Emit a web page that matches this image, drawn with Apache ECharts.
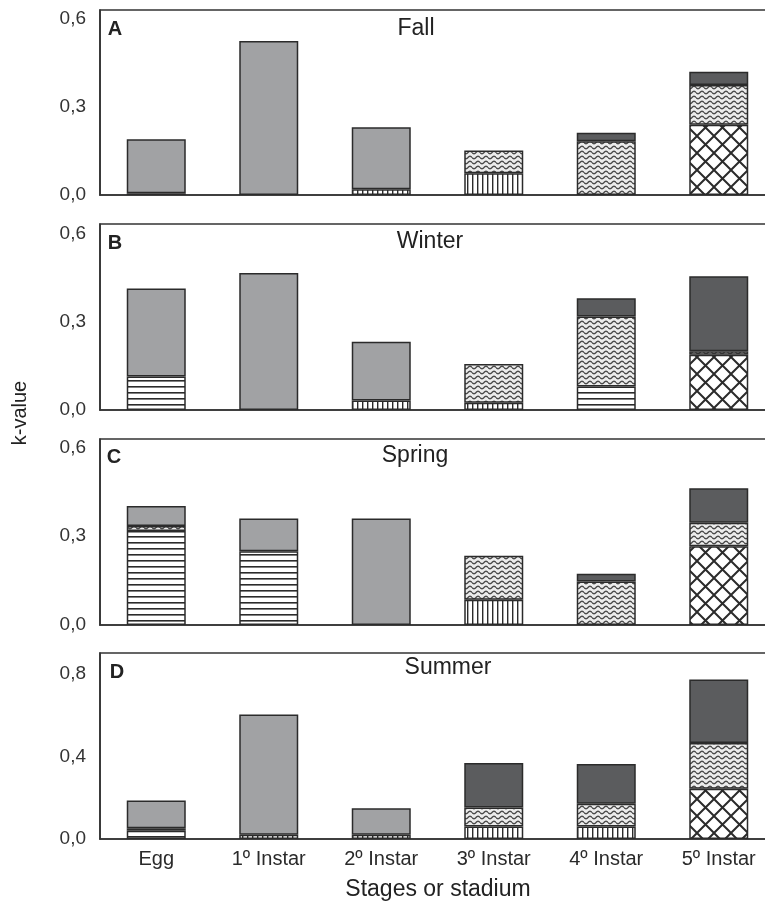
<!DOCTYPE html>
<html>
<head>
<meta charset="utf-8">
<script src="https://cdn.jsdelivr.net/npm/echarts@6/dist/echarts.min.js"></script>
<style>
  html, body { margin: 0; padding: 0; background: #fff; overflow: hidden; }
  /* plot frame runs a little past the right edge of the picture, as in the original */
  #main { width: 785px; height: 912px; }
</style>
</head>
<body>
<div id="main"></div>
<script>
var stages = ['Egg', '1º Instar', '2º Instar', '3º Instar', '4º Instar', '5º Instar'];

// A - Fall
var fallHoriz  = [0.006, 0, 0, 0, 0, 0];
var fallDarkLo = [0, 0, 0, 0, 0, 0];
var fallVert   = [0, 0, 0.02, 0.074, 0, 0];
var fallCross  = [0, 0, 0, 0, 0, 0.24];
var fallWavy   = [0, 0, 0, 0.078, 0.183, 0.135];
var fallLight  = [0.184, 0.525, 0.211, 0, 0, 0];
var fallDark   = [0, 0, 0, 0, 0.029, 0.045];

// B - Winter
var winterHoriz  = [0.114, 0, 0, 0, 0.08, 0];
var winterDarkLo = [0, 0, 0, 0, 0, 0];
var winterVert   = [0, 0, 0.032, 0.025, 0, 0];
var winterCross  = [0, 0, 0, 0, 0, 0.188];
var winterWavy   = [0, 0, 0, 0.132, 0.239, 0.012];
var winterLight  = [0.30, 0.467, 0.201, 0, 0, 0];
var winterDark   = [0, 0, 0, 0, 0.062, 0.256];

// C - Spring
var springHoriz  = [0.317, 0.249, 0, 0, 0, 0];
var springDarkLo = [0, 0, 0, 0, 0, 0];
var springVert   = [0, 0, 0, 0.085, 0, 0];
var springCross  = [0, 0, 0, 0, 0, 0.266];
var springWavy   = [0.017, 0, 0, 0.149, 0.147, 0.079];
var springLight  = [0.068, 0.111, 0.36, 0, 0, 0];
var springDark   = [0, 0, 0, 0, 0.026, 0.117];

// D - Summer
var summerHoriz  = [0.04, 0, 0, 0, 0, 0];
var summerDarkLo = [0.012, 0, 0, 0, 0, 0];
var summerVert   = [0, 0.02, 0.02, 0.06, 0.06, 0];
var summerCross  = [0, 0, 0, 0, 0, 0.243];
var summerWavy   = [0, 0, 0, 0.092, 0.11, 0.222];
var summerLight  = [0.134, 0.582, 0.129, 0, 0, 0];
var summerDark   = [0, 0, 0, 0.216, 0.193, 0.307];

// y ticks per panel
var ticksAB = [0, 0.3, 0.6];
var minorAB = [0.15, 0.45];
var ticksD = [0, 0.4, 0.8];
var minorD = [0.2, 0.6];

var FONT = '"Liberation Sans", Arial, sans-serif';
var INK = '#2b2b2b';

// ---- fill patterns ----
function tile(w, h, draw) {
    var c = document.createElement('canvas');
    c.width = w; c.height = h;
    var ctx = c.getContext('2d');
    ctx.fillStyle = '#fff';
    ctx.fillRect(0, 0, w, h);
    draw(ctx, w, h);
    return { image: c, repeat: 'repeat' };
}
var horizFill = tile(6, 6, function (ctx, w) {
    ctx.fillStyle = INK;
    ctx.fillRect(0, 2, w, 1.6);
});
var vertFill = tile(5, 5, function (ctx, w, h) {
    ctx.fillStyle = INK;
    ctx.fillRect(2, 0, 1.4, h);
});
var crossFill = tile(17, 17, function (ctx, s) {
    ctx.strokeStyle = INK;
    ctx.lineWidth = 2;
    ctx.beginPath();
    [-s, 0, s].forEach(function (dx) {
        ctx.moveTo(dx, 0); ctx.lineTo(dx + s, s);
        ctx.moveTo(dx + s, 0); ctx.lineTo(dx, s);
    });
    ctx.stroke();
});
var wavyFill = tile(8, 5, function (ctx, w) {
    ctx.fillStyle = '#ececec';
    ctx.fillRect(0, 0, w, 5);
    ctx.strokeStyle = '#4a4a4a';
    ctx.lineWidth = 1.4;
    ctx.beginPath();
    for (var x = 0; x <= w; x += 0.5) {
        var y = 2.5 + 1.3 * Math.sin(2 * Math.PI * x / w);
        if (x === 0) ctx.moveTo(x, y); else ctx.lineTo(x, y);
    }
    ctx.stroke();
});
var lightFill = '#a1a2a4';
var darkFill = '#5b5c5e';

var panels = [
    { top: 10,  height: 185, max: 0.631, ticks: ticksAB, minor: minorAB, layers: [fallHoriz, fallDarkLo, fallVert, fallCross, fallWavy, fallLight, fallDark] },
    { top: 224, height: 186, max: 0.634, ticks: ticksAB, minor: minorAB, layers: [winterHoriz, winterDarkLo, winterVert, winterCross, winterWavy, winterLight, winterDark] },
    { top: 439, height: 186, max: 0.628, ticks: ticksAB, minor: minorAB, layers: [springHoriz, springDarkLo, springVert, springCross, springWavy, springLight, springDark] },
    { top: 653, height: 186, max: 0.9,   ticks: ticksD,  minor: minorD,  layers: [summerHoriz, summerDarkLo, summerVert, summerCross, summerWavy, summerLight, summerDark] }
];
var fills = [horizFill, darkFill, vertFill, crossFill, wavyFill, lightFill, darkFill];

var grids = [], xAxes = [], yAxes = [], series = [];
panels.forEach(function (p, i) {
    grids.push({
        left: 100, top: p.top, width: 675, height: p.height,
        show: true, borderColor: '#333', borderWidth: 1.6, backgroundColor: 'transparent'
    });
    xAxes.push({
        type: 'category', gridIndex: i, data: stages, boundaryGap: true,
        axisLine: { lineStyle: { color: '#333', width: 1.6 } },
        axisTick: { alignWithLabel: true, length: 6, lineStyle: { color: '#333', width: 1.4 } },
        axisLabel: { show: i === 3, color: '#2a2a2a', fontSize: 20, fontFamily: FONT, margin: 10 }
    });
    yAxes.push({
        type: 'value', gridIndex: i, position: 'left', min: 0, max: p.max,
        interval: p.ticks[1],
        splitLine: { show: false },
        axisLine: { show: true, lineStyle: { color: '#333', width: 1.6 } },
        axisTick: { customValues: p.ticks, length: 6, lineStyle: { color: '#333', width: 1.4 } },
        axisLabel: {
            customValues: p.ticks, color: '#333', fontSize: 19, fontFamily: FONT, margin: 14,
            formatter: function (v) { return v.toFixed(1).replace('.', ','); }
        }
    });
    yAxes.push({
        type: 'value', gridIndex: i, position: 'left', min: 0, max: p.max,
        interval: p.minor[0],
        splitLine: { show: false },
        axisLine: { show: false },
        axisLabel: { show: false },
        axisTick: { customValues: p.minor, length: 3, lineStyle: { color: '#333', width: 1.2 } }
    });
    p.layers.forEach(function (vals, k) {
        series.push({
            type: 'bar', xAxisIndex: i, yAxisIndex: i * 2, stack: 'panel' + i,
            barWidth: 59, silent: true,
            data: vals.map(function (v) { return v > 0 ? v : null; }),
            itemStyle: { color: fills[k], borderColor: INK, borderWidth: 1.5 }
        });
    });
});

var letters = [['A', 115, 29], ['B', 115, 243], ['C', 114, 457], ['D', 117, 672]];
var titles = [['Fall', 416, 29], ['Winter', 430, 242], ['Spring', 415, 456], ['Summer', 448, 668]];
var graphics = [];
letters.forEach(function (t) {
    graphics.push({ type: 'text', x: t[1], y: t[2], z: 100,
        style: { text: t[0], align: 'center', verticalAlign: 'middle', font: 'bold 20px ' + FONT, fill: '#222' } });
});
titles.forEach(function (t) {
    graphics.push({ type: 'text', x: t[1], y: t[2], z: 100,
        style: { text: t[0], align: 'center', verticalAlign: 'middle', font: '23px ' + FONT, fill: '#222' } });
});
graphics.push({ type: 'text', x: 20, y: 413, rotation: Math.PI / 2,
    style: { text: 'k-value', align: 'center', verticalAlign: 'middle', font: '20px ' + FONT, fill: '#222' } });
graphics.push({ type: 'text', x: 438, y: 890,
    style: { text: 'Stages or stadium', align: 'center', verticalAlign: 'middle', font: '23px ' + FONT, fill: '#222' } });

var chart = echarts.init(document.getElementById('main'), null, { renderer: 'canvas' });
chart.setOption({
    animation: false,
    backgroundColor: '#fff',
    grid: grids,
    xAxis: xAxes,
    yAxis: yAxes,
    series: series,
    graphic: graphics
});
</script>
</body>
</html>
